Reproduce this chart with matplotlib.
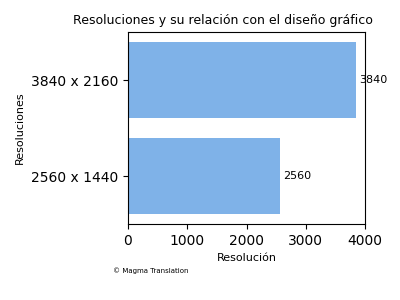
import matplotlib
matplotlib.use('Agg')
import matplotlib.pyplot as plt

resoluciones = ['2560 x 1440', '3840 x 2160']
valores = [2560, 3840]

fig = plt.figure(figsize=(4, 3), dpi=100)
ax = fig.add_axes([0.32, 0.2533, 0.5925, 0.64])

bars = ax.barh(resoluciones, valores, color='#7fb2e8', height=0.8)
for b, v in zip(bars, valores):
    ax.text(b.get_width() + 60, b.get_y() + b.get_height() / 2, str(v),
            va='center', ha='left', fontsize=8)

ax.set_xlim(0, 4000)
ax.set_ylim(-0.5, 1.5)
ax.set_xticks([0, 1000, 2000, 3000, 4000])
ax.set_xlabel('Resolución', fontsize=8)
ax.set_ylabel('Resoluciones', fontsize=8)

# title sits centred a bit left of the axes
fig.text(0.5575, 0.933, 'Resoluciones y su relación con el diseño gráfico',
         fontsize=9, ha='center', va='center')
fig.text(0.2825, 0.097, '© Magma Translation', fontsize=5, ha='left', va='center')

fig.savefig('out.png', dpi=100)
